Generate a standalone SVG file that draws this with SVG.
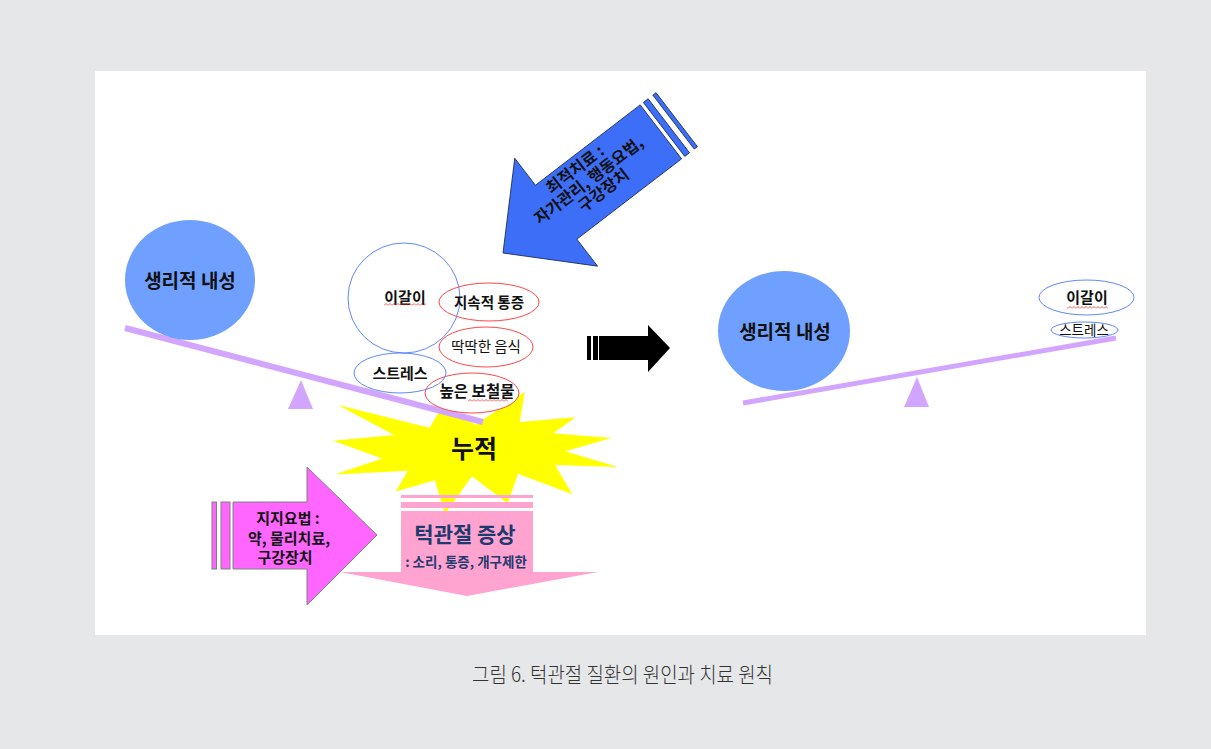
<svg xmlns="http://www.w3.org/2000/svg" width="1211" height="749" viewBox="0 0 1211 749">
<defs>
<style>
.k{font-family:"Noto Sans CJK KR","Noto Sans",sans-serif;text-anchor:middle;fill:#111}
.b{font-weight:bold}
.seesaw{stroke:#d2a6ff;stroke-linecap:butt;fill:none}
.fulcrum{fill:#d2a6ff}
.bigc{fill:#6fa0ff}
.blueE{fill:#fff;stroke:#5f86ff;stroke-width:1}
.redE{fill:#fff;stroke:#ff4848;stroke-width:1}
</style>
<pattern id="sq" width="4" height="3" patternUnits="userSpaceOnUse">
<path d="M0,2.5 L2,0.5 L4,2.5" stroke="#e03030" fill="none" stroke-width="0.8"/>
</pattern>
</defs>
<rect x="0" y="0" width="1211" height="749" fill="#e6e7e8"/>
<rect x="95" y="71" width="1051" height="564" fill="#fff"/>

<!-- starburst -->
<g id="accum">
<polygon fill="#ffff00" transform="translate(333,392) scale(0.013194,0.005648)" points="10800,5800 14522,0 14155,5325 18380,4457 16702,7315 21097,8137 17607,10475 21600,13290 16837,12942 18145,18095 14020,14457 13247,19737 10532,14935 8485,21600 7715,15627 4762,17617 5667,13937 135,14587 3722,11775 0,8615 4627,7617 370,2295 7312,6320 8352,2295"/>
<text class="k b" x="474" y="458" font-size="25">누적</text>
</g>

<!-- left seesaw -->
<g id="seesaw-left">
<line class="seesaw" x1="125" y1="328" x2="483" y2="422" stroke-width="6"/>
<polygon class="fulcrum" points="301,380 288,409 313,409"/>
</g>
<g id="tolerance-left">
<ellipse class="bigc" cx="190" cy="280" rx="65" ry="60"/>
<text class="k b" x="190" y="288" font-size="19">생리적 내성</text>
</g>
<g id="bruxism-left">
<ellipse cx="404" cy="298" rx="56" ry="55" fill="none" stroke="#5f86ff" stroke-width="1"/>
<text class="k b" x="405" y="302.5" font-size="15">이갈이</text>
<rect x="384" y="303" width="42" height="3" fill="url(#sq)"/>
</g>
<g id="pain">
<ellipse cx="489" cy="302" rx="50" ry="19" fill="none" stroke="#ff4848" stroke-width="1"/>
<text class="k b" x="489" y="307.5" font-size="14.5">지속적 통증</text>
</g>
<g id="hardfood">
<ellipse cx="486" cy="347" rx="47" ry="20" fill="none" stroke="#ff4848" stroke-width="1"/>
<text class="k" x="486" y="352" font-size="14.5">딱딱한 음식</text>
</g>
<g id="prosthesis">
<ellipse class="redE" cx="472" cy="393" rx="47" ry="20"/>
<text class="k b" x="477" y="396.5" font-size="15.5">높은 보철물</text>
<rect x="468" y="399" width="40" height="3" fill="url(#sq)"/>
</g>
<g id="stress-left">
<ellipse cx="400" cy="373" rx="46" ry="20" fill="none" stroke="#5f86ff" stroke-width="1"/>
<text class="k b" x="400" y="378.5" font-size="15">스트레스</text>
</g>

<!-- right seesaw -->
<g id="seesaw-right">
<line class="seesaw" x1="743" y1="403" x2="1116" y2="338" stroke-width="5"/>
<polygon class="fulcrum" points="917,377 904,407 929,407"/>
</g>
<g id="tolerance-right">
<ellipse class="bigc" cx="784" cy="331" rx="66" ry="60"/>
<text class="k b" x="785" y="339" font-size="19">생리적 내성</text>
</g>
<g id="bruxism-right">
<ellipse class="blueE" cx="1086.5" cy="297.5" rx="47.5" ry="17.5"/>
<text class="k b" x="1087" y="303" font-size="15">이갈이</text>
<rect x="1067" y="306" width="41" height="3" fill="url(#sq)"/>
</g>
<g id="stress-right">
<ellipse class="blueE" cx="1084.5" cy="330" rx="33.5" ry="8"/>
<text class="k" x="1084" y="334.5" font-size="13.5">스트레스</text>
</g>

<g id="connectors">
<!-- black transition arrow -->
<g id="arrow-transition" fill="#000">
<rect x="587" y="336" width="4" height="24"/>
<rect x="593" y="336" width="5" height="24"/>
<polygon points="599,336 648,336 648,325 670,348 648,372 648,360 599,360"/>
</g>

<!-- blue optimal treatment arrow -->
<g id="arrow-optimal">
<g transform="translate(503,253) rotate(142.5)" fill="#3d6ef7" stroke="#1c2a55" stroke-width="0.8">
<polygon points="0,0 -67,-68 -67,-34 -199,-34 -199,34 -67,34 -67,68"/>
<rect x="-209" y="-34" width="6" height="68"/>
<rect x="-219" y="-34" width="4" height="68"/>
</g>
<g transform="translate(592,185) rotate(-37.5)">
<text class="k b" x="-4" y="-17" font-size="16">최적치료 :</text>
<text class="k b" x="0" y="0" font-size="16">자가관리, 행동요법,</text>
<text class="k b" x="6" y="17" font-size="16">구강장치</text>
</g>
</g>

<!-- magenta supportive arrow -->
<g id="arrow-support">
<g fill="#ff66ff" stroke="#808080" stroke-width="1">
<rect x="212" y="502" width="4.5" height="67"/>
<rect x="221" y="502" width="9" height="67"/>
<polygon points="233,502 307,502 307,467 377,535 307,605 307,569 233,569"/>
</g>
<text class="k b" x="288" y="524" font-size="15">지지요법 :</text>
<text class="k b" x="289" y="543.5" font-size="15">약, 물리치료,</text>
<text class="k b" x="285" y="563" font-size="15">구강장치</text>
</g>
</g>

<!-- pink symptom arrow -->
<g id="symptoms">
<g fill="#ffa3d0">
<rect x="401" y="495" width="132" height="3"/>
<rect x="401" y="502" width="132" height="6"/>
<polygon points="401,511 533,511 533,572 598,572 467,596 340,572 401,572"/>
</g>
<text class="k b" x="465" y="542" font-size="21" style="fill:#1f3a6e">턱관절 증상</text>
<text class="k b" x="466" y="567" font-size="13.5" style="fill:#1f3a6e">: 소리, 통증, 개구제한</text>
</g>

<text id="caption" x="472" y="682" font-size="21" textLength="301" lengthAdjust="spacingAndGlyphs" style="font-family:'Noto Sans CJK KR','Noto Sans',sans-serif;font-weight:300;fill:#333">그림 6. 턱관절 질환의 원인과 치료 원칙</text>
</svg>
